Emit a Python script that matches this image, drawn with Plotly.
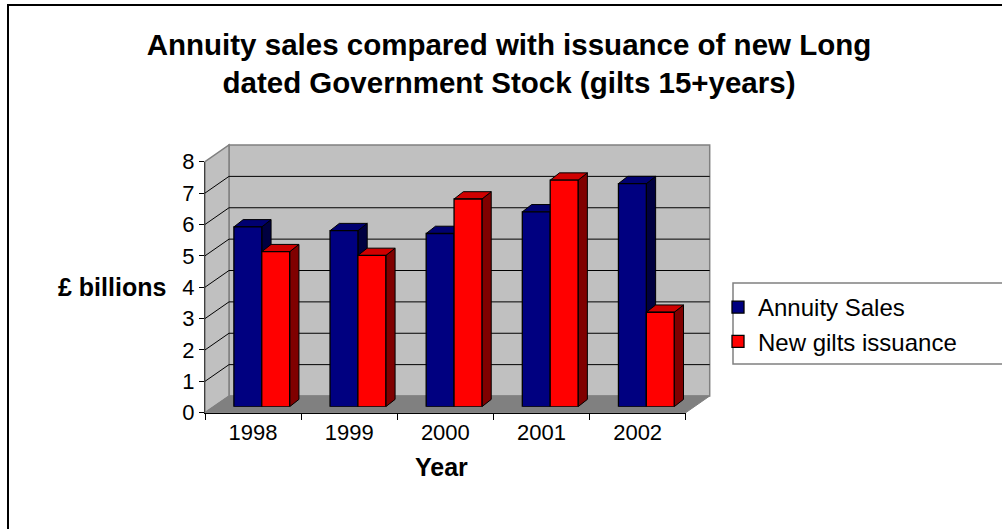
import plotly.graph_objects as go

# ---------------- data ----------------
years = ["1998", "1999", "2000", "2001", "2002"]
annuity_sales = [5.73, 5.61, 5.52, 6.21, 7.11]
new_gilts_issuance = [4.94, 4.82, 6.62, 7.22, 3.01]
y_tick_values = [0, 1, 2, 3, 4, 5, 6, 7, 8]
series_names = ["Annuity Sales", "New gilts issuance"]

# ---------------- styles / geometry (pixels) ----------------
W, H = 1002, 529
FONT = "Liberation Sans, Arial, sans-serif"
FRONT_L, FRONT_R = 205.0, 685.7      # front x-axis extent
FRONT_Y0, FRONT_YTOP = 412.7, 161.7  # front y-axis: value 0 and value 8
WALL_DX, WALL_DY = 24.0, 16.7        # depth of the box (floor / side wall)
SET_DX, SET_DY = 8.7, 6.0            # bars plane behind the front plane
BAR_DX, BAR_DY = 9.3, 7.3            # depth of each column
BAR_W = 0.29                         # column width (category units)

FRONT_FILL = ["#000080", "#FF0000"]
TOP_FILL = ["#000070", "#D00000"]
SIDE_FILL = ["#000040", "#800000"]


def px(x):
    return x / W


def py(y):
    return 1 - y / H


ymax = y_tick_values[-1]
unit_px = (FRONT_Y0 - FRONT_YTOP) / ymax
ncat = len(years)
cat_px = (FRONT_R - FRONT_L) / ncat
dx = BAR_DX / cat_px
dy = BAR_DY / unit_px

fig = go.Figure()

# ----- 3D faces of the columns (base subplot x/y, drawn beneath the fronts) -----
series_values = [annuity_sales, new_gilts_issuance]
for s, vals in enumerate(series_values):
    tx, ty, sx, sy = [], [], [], []
    for i, v in enumerate(vals):
        x0 = i - BAR_W if s == 0 else i
        x1 = x0 + BAR_W
        tx += [x0, x0 + dx, x1 + dx, x1, x0, None]
        ty += [v, v + dy, v + dy, v, v, None]
        sx += [x1, x1, x1 + dx, x1 + dx, x1, None]
        sy += [0, v, v + dy, dy, 0, None]
    fig.add_trace(go.Scatter(x=sx, y=sy, mode="lines", fill="toself",
                             fillcolor=SIDE_FILL[s], line=dict(color="black", width=1),
                             xaxis="x", yaxis="y", showlegend=False, hoverinfo="skip"))
    fig.add_trace(go.Scatter(x=tx, y=ty, mode="lines", fill="toself",
                             fillcolor=TOP_FILL[s], line=dict(color="black", width=1),
                             xaxis="x", yaxis="y", showlegend=False, hoverinfo="skip"))

# ----- front faces of the columns (overlay subplot x2/y2) -----
for s, vals in enumerate(series_values):
    fig.add_trace(go.Bar(x=years, y=vals, name=series_names[s],
                         marker=dict(color=FRONT_FILL[s], line=dict(color="black", width=1.3)),
                         xaxis="x2", yaxis="y2", legendgroup=series_names[s]))

# ----- front value / category axes (carrier trace, no visible marks) -----
fig.add_trace(go.Scatter(x=list(range(ncat)), y=[0] * ncat, mode="markers",
                         marker=dict(opacity=0, size=1), xaxis="x3", yaxis="y3",
                         showlegend=False, hoverinfo="skip"))

bar_dom_x = [px(FRONT_L + SET_DX), px(FRONT_R + SET_DX)]
bar_dom_y = [py(FRONT_Y0 - SET_DY), py(FRONT_YTOP - SET_DY)]
front_dom_x = [px(FRONT_L), px(FRONT_R)]
front_dom_y = [py(FRONT_Y0), py(FRONT_YTOP)]

hidden = dict(visible=False, showgrid=False, zeroline=False, fixedrange=True)

# ----- walls, floor, gridlines (decoration) -----
shapes = []
bx0, by0 = FRONT_L + WALL_DX, FRONT_Y0 - WALL_DY
bx1, byt = FRONT_R + WALL_DX, FRONT_YTOP - WALL_DY
shapes.append(dict(type="rect", xref="paper", yref="paper", layer="below",
                   x0=px(bx0), x1=px(bx1), y0=py(by0), y1=py(byt),
                   fillcolor="#C0C0C0", line=dict(color="#808080", width=1.5)))
shapes.append(dict(type="path", xref="paper", yref="paper", layer="below",
                   path=f"M{px(FRONT_L)},{py(FRONT_Y0)} L{px(FRONT_L)},{py(FRONT_YTOP)} "
                        f"L{px(bx0)},{py(byt)} L{px(bx0)},{py(by0)} Z",
                   fillcolor="#C0C0C0", line=dict(color="#808080", width=1.5)))
shapes.append(dict(type="path", xref="paper", yref="paper", layer="below",
                   path=f"M{px(FRONT_L)},{py(FRONT_Y0)} L{px(FRONT_R)},{py(FRONT_Y0)} "
                        f"L{px(bx1)},{py(by0)} L{px(bx0)},{py(by0)} Z",
                   fillcolor="#808080", line=dict(color="#808080", width=1)))
for v in y_tick_values[1:-1]:
    yf = FRONT_Y0 - v * unit_px
    yb = yf - WALL_DY
    shapes.append(dict(type="path", xref="paper", yref="paper", layer="below",
                       path=f"M{px(FRONT_L)},{py(yf)} L{px(bx0)},{py(yb)} L{px(bx1)},{py(yb)}",
                       line=dict(color="black", width=1)))
# legend box
shapes.append(dict(type="rect", xref="paper", yref="paper", layer="below",
                   x0=px(733), x1=px(1030), y0=py(283), y1=py(364),
                   line=dict(color="#808080", width=1.5)))
# outer chart border
shapes.append(dict(type="rect", xref="paper", yref="paper", layer="below",
                   x0=px(8), x1=px(1030), y0=py(5), y1=py(560),
                   line=dict(color="black", width=2)))

fig.update_layout(
    width=W, height=H,
    margin=dict(l=0, r=0, t=0, b=0, autoexpand=False),
    paper_bgcolor="white", plot_bgcolor="rgba(0,0,0,0)",
    font=dict(family=FONT, size=22, color="black"),
    barmode="group", bargap=1 - 2 * BAR_W, bargroupgap=0,
    title=dict(text="<b>Annuity sales compared with issuance of new Long<br>"
                    "dated Government Stock (gilts 15+years)</b>",
               x=509 / W, xanchor="center", xref="paper",
               y=py(55), yanchor="middle", yref="container",
               font=dict(family=FONT, size=29.5, color="black")),
    xaxis=dict(domain=bar_dom_x, range=[-0.5, ncat - 0.5], anchor="y", **hidden),
    yaxis=dict(domain=bar_dom_y, range=[0, ymax], anchor="x", **hidden),
    xaxis2=dict(overlaying="x", anchor="y2", type="category", range=[-0.5, ncat - 0.5], **hidden),
    yaxis2=dict(overlaying="y", anchor="x2", range=[0, ymax], **hidden),
    xaxis3=dict(domain=front_dom_x, anchor="y3", range=[-0.5, ncat - 0.5],
                tickvals=list(range(ncat)), ticktext=years, ticks="",
                minor=dict(tickvals=[i - 0.5 for i in range(ncat + 1)], ticks="outside",
                           ticklen=6, tickcolor="black", tickwidth=1, showgrid=False),
                showline=True, linecolor="black", linewidth=1,
                showgrid=False, zeroline=False, fixedrange=True,
                tickfont=dict(family=FONT, size=22, color="black")),
    yaxis3=dict(domain=front_dom_y, anchor="x3", range=[0, ymax],
                tickvals=y_tick_values, ticks="outside", ticklen=5,
                tickcolor="black", showline=True, linecolor="#404040", linewidth=1,
                showgrid=False, zeroline=False, fixedrange=True,
                tickfont=dict(family=FONT, size=22, color="black")),
    shapes=shapes,
    annotations=[
        dict(text="<b>£ billions</b>", x=px(112), y=py(287), xref="paper", yref="paper",
             showarrow=False, xanchor="center", yanchor="middle",
             font=dict(family=FONT, size=25, color="black")),
        dict(text="<b>Year</b>", x=px(441), y=py(467), xref="paper", yref="paper",
             showarrow=False, xanchor="center", yanchor="middle",
             font=dict(family=FONT, size=25, color="black")),
    ],
    legend=dict(x=px(718), y=py(285), xanchor="left", yanchor="top",
                xref="paper", yref="paper", bgcolor="rgba(0,0,0,0)", borderwidth=0,
                font=dict(family=FONT, size=24, color="black"),
                tracegroupgap=9, traceorder="normal"),
    showlegend=True,
)

fig.write_html("out.html", config={"displayModeBar": False},
               post_script="document.body.style.margin='0';")
